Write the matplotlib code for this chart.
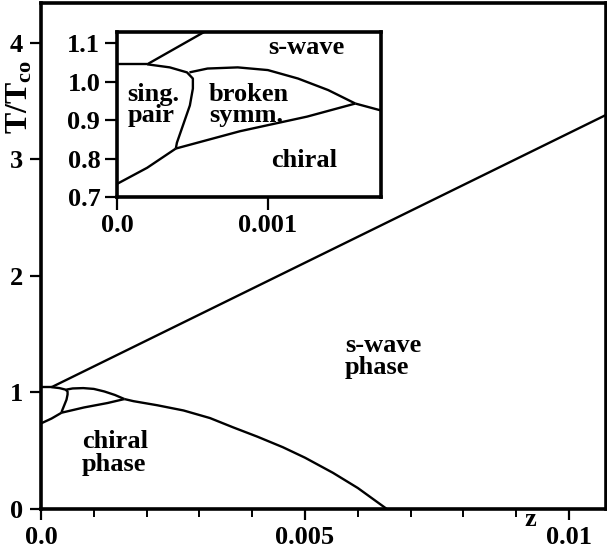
import matplotlib
matplotlib.use("Agg")
import matplotlib.pyplot as plt
from matplotlib.ticker import MultipleLocator, FixedLocator

plt.rcParams['font.family'] = ['Liberation Serif', 'DejaVu Serif']
plt.rcParams['font.weight'] = 'bold'
plt.rcParams['mathtext.fontset'] = 'custom'
plt.rcParams['mathtext.rm'] = 'Liberation Serif:bold'
plt.rcParams['mathtext.it'] = 'Liberation Serif:bold'
plt.rcParams['mathtext.bf'] = 'Liberation Serif:bold'

# ---- data (z, T/Tco) ----
swave_z = [0.0002, 0.0107]
swave_T = [1.045, 3.38]

top_z = [0.0, 0.0002]
top_T = [1.045, 1.045]

singpair_z = [0.0002, 0.00035, 0.000464, 0.000503, 0.000503, 0.000483, 0.000437, 0.000397, 0.00039]
singpair_T = [1.045, 1.037, 1.024, 1.008, 0.982, 0.938, 0.886, 0.841, 0.826]

lowleft_z = [0.0, 0.0002, 0.00039]
lowleft_T = [0.734, 0.776, 0.826]

broken_up_z = [0.00048, 0.0006, 0.0008, 0.001, 0.0012, 0.0014, 0.00158]
broken_up_T = [1.024, 1.034, 1.037, 1.030, 1.008, 0.978, 0.943]

broken_lo_z = [0.00039, 0.000815, 0.00126, 0.00158]
broken_lo_T = [0.826, 0.871, 0.909, 0.943]

chiral_z = [0.00158, 0.00175, 0.0022, 0.0027, 0.0032, 0.00364, 0.0041, 0.00458, 0.005, 0.00553, 0.006, 0.00655]
chiral_T = [0.943, 0.925, 0.89, 0.845, 0.78, 0.70, 0.62, 0.53, 0.44, 0.31, 0.18, 0.0]

main_xticks = [0.0, 0.005, 0.01]
main_xticklabels = ["0.0", "0.005", "0.01"]
main_yticks = [0, 1, 2, 3, 4]
inset_xticks = [0.0, 0.001]
inset_xticklabels = ["0.0", "0.001"]
inset_yticks = [0.7, 0.8, 0.9, 1.0, 1.1]
inset_yticklabels = ["0.7", "0.8", "0.9", "1.0", "1.1"]

curves = [(swave_z, swave_T), (top_z, top_T), (singpair_z, singpair_T),
          (lowleft_z, lowleft_T), (broken_up_z, broken_up_T),
          (broken_lo_z, broken_lo_T), (chiral_z, chiral_T)]

W, H = 607, 553
fig = plt.figure(figsize=(W/100, H/100), dpi=100)
FS = 19

def px(l, t, r, b):
    return [l/W, 1 - b/H, (r-l)/W, (b-t)/H]

ax = fig.add_axes(px(41, 3, 606, 509))
for zz, tt in curves:
    ax.plot(zz, tt, color='black', lw=1.7, solid_capstyle='butt')
ax.set_xlim(0, 0.0107)
ax.set_ylim(0, 4.34)
ax.set_xticks(main_xticks)
ax.set_xticklabels(main_xticklabels)
ax.xaxis.set_minor_locator(MultipleLocator(0.001))
ax.set_yticks(main_yticks)
ax.tick_params(axis='both', which='major', direction='out', length=8, width=1.6,
               labelsize=FS, pad=5)
ax.tick_params(axis='x', which='minor', direction='out', length=6, width=1.4)
ax.tick_params(axis='x', which='major', pad=4)
for s in ax.spines.values():
    s.set_linewidth(2.6)
ax.text(0.00576, 1.31, "s-wave\nphase", fontsize=FS, fontweight='bold', ha='left', va='center',
        linespacing=0.95)
ax.text(0.00078, 0.48, "chiral\nphase", fontsize=FS, fontweight='bold', ha='left', va='center',
        linespacing=0.95)
fig.text(530/W, 1 - 519/H, "z", fontsize=FS, fontweight='bold', ha='center', va='center')
fig.text(20/W, 1 - 97/H, r"$\mathrm{T/T_{co}}$", fontsize=23, rotation=90, ha='center', va='center')

ins = fig.add_axes(px(117, 32, 381, 197))
for zz, tt in curves:
    ins.plot(zz, tt, color='black', lw=1.7, solid_capstyle='butt')
ins.set_xlim(0, 0.00175)
ins.set_ylim(0.7, 1.129)
ins.xaxis.set_major_locator(FixedLocator(inset_xticks))
ins.set_xticklabels(inset_xticklabels)
ins.yaxis.set_major_locator(FixedLocator(inset_yticks))
ins.set_yticklabels(inset_yticklabels)
ins.tick_params(axis='both', direction='out', length=9, width=1.6, labelsize=FS, pad=3)
for s in ins.spines.values():
    s.set_linewidth(2.6)
ins.text(0.00007, 0.94, "sing.\npair", fontsize=FS, fontweight='bold', ha='left', va='center',
         linespacing=0.9)
ins.text(0.00061, 0.94, "broken\nsymm.", fontsize=FS, fontweight='bold', ha='left', va='center',
         linespacing=0.9)
ins.text(0.00100, 1.088, "s-wave", fontsize=FS, fontweight='bold', ha='left', va='center')
ins.text(0.00102, 0.795, "chiral", fontsize=FS, fontweight='bold', ha='left', va='center')

fig.savefig("out.png", dpi=100)
